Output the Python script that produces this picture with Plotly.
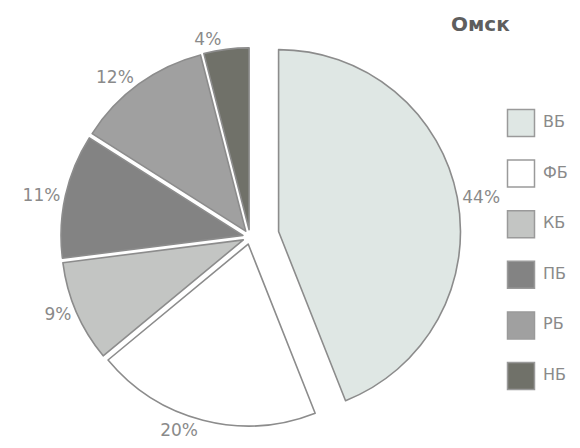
import plotly.graph_objects as go

categories = ["ВБ", "ФБ", "КБ", "ПБ", "РБ", "НБ"]
values = [44, 20, 9, 11, 12, 4]
colors = ["#dfe7e4", "#ffffff", "#c3c5c3", "#838383", "#a0a0a0", "#707169"]
pulls = [0.16, 0.04, 0.04, 0.04, 0.04, 0.04]
title_text = "Омск"

W, H = 580, 448
T = 26                       # top margin (px)
PH = H - T                   # plot-area height
CX, CY = 250, 237            # pie centre (px)
LEG_Y0, LEG_STEP = 123, 50.6 # legend first row centre and spacing (px)
LEG_X = 521                  # legend square centre (px)

FONT = "DejaVu Sans, Liberation Sans, Arial, sans-serif"

fig = go.Figure()

fig.add_trace(go.Pie(
    labels=categories,
    values=values,
    sort=False,
    direction="clockwise",
    rotation=0,
    pull=pulls,
    marker=dict(colors=colors, line=dict(color="#8c8c8c", width=1.6)),
    textposition="outside",
    texttemplate="%{value}%",
    textfont=dict(family=FONT, size=17, color="#8a8a8a"),
    showlegend=False,
    hoverinfo="label+value",
    automargin=False,
    domain=dict(x=[(CX - PH / 2) / W, (CX + PH / 2) / W], y=[0, 1]),
))

# legend drawn as categorical scatter: squares + labels
fig.add_trace(go.Scatter(
    x=[0] * len(categories),
    y=categories,
    mode="markers",
    marker=dict(symbol="square", size=27, color=colors, line=dict(color="#9a9a9a", width=1.5)),
    showlegend=False,
    hoverinfo="skip",
    cliponaxis=False,
))
fig.add_trace(go.Scatter(
    x=[0.22] * len(categories),
    y=categories,
    mode="text",
    text=categories,
    textposition="middle right",
    textfont=dict(family=FONT, size=16, color="#8a8a8a"),
    showlegend=False,
    hoverinfo="skip",
    cliponaxis=False,
))

fig.update_layout(
    width=W, height=H,
    margin=dict(l=0, r=0, t=T, b=0, autoexpand=False),
    paper_bgcolor="white",
    plot_bgcolor="rgba(0,0,0,0)",
    xaxis=dict(visible=False, range=[-LEG_X / 100, (W - LEG_X) / 100], fixedrange=True),
    yaxis=dict(visible=False, type="category", categoryorder="array", categoryarray=categories,
               range=[(H - LEG_Y0) / LEG_STEP, -(LEG_Y0 - T) / LEG_STEP], fixedrange=True),
    annotations=[dict(
        text="<b>" + title_text + "</b>", x=480 / W, y=1 + (T - 24) / PH, xref="paper", yref="paper",
        xanchor="center", yanchor="middle", showarrow=False,
        font=dict(family=FONT, size=20, color="#5e5e5e"),
    )],
)

fig.write_html("out.html")
